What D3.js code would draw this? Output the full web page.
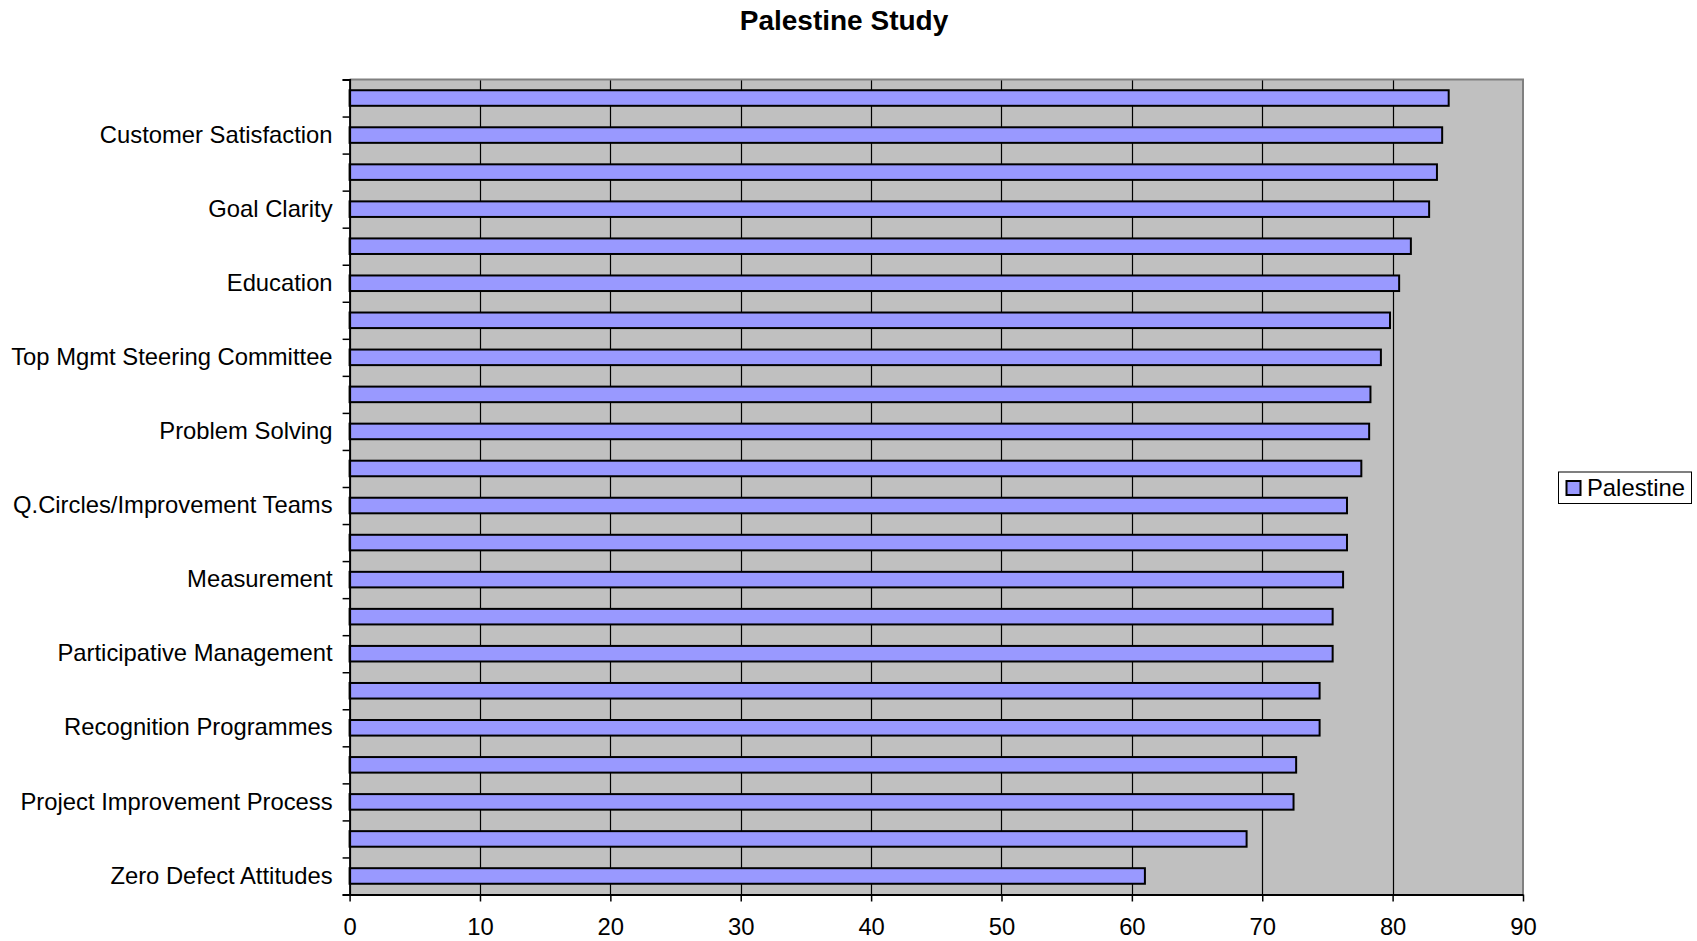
<!DOCTYPE html>
<html>
<head>
<meta charset="utf-8">
<script src="https://cdn.jsdelivr.net/npm/d3@7"></script>
<style>
  html, body { margin: 0; padding: 0; background: #ffffff; }
  svg { display: block; font-family: "Liberation Sans", Arial, sans-serif; }
</style>
</head>
<body>
<svg id="chart" width="1697" height="941"></svg>
<script>
// Factor scores, top to bottom; only every second category carries a visible label.
const categories = [
  "", "Customer Satisfaction", "", "Goal Clarity", "", "Education", "",
  "Top Mgmt Steering Committee", "", "Problem Solving", "", "Q.Circles/Improvement Teams",
  "", "Measurement", "", "Participative Management", "", "Recognition Programmes", "",
  "Project Improvement Process", "", "Zero Defect Attitudes"
];
const palestine = [
  84.3, 83.8, 83.4, 82.8, 81.4, 80.5, 79.8, 79.1, 78.3, 78.2, 77.6,
  76.5, 76.5, 76.2, 75.4, 75.4, 74.4, 74.4, 72.6, 72.4, 68.8, 61.0
];
const xTicks = [0, 10, 20, 30, 40, 50, 60, 70, 80, 90];
const seriesName = "Palestine";
const title = "Palestine Study";

const svg = d3.select("#chart");
const plot = { left: 349.6, right: 1523, top: 79.5, bottom: 894.5 };
const fontSize = 23.8;

const x = d3.scaleLinear().domain([0, 90]).range([plot.left, plot.right]);
const idx = d3.range(categories.length);
const y = d3.scaleBand().domain(idx).range([plot.top, plot.bottom])
  .paddingInner(0.58).paddingOuter(0.29);
// category boundaries for the small tick marks on the value axis
const yEdge = d3.scaleLinear().domain([0, categories.length]).range([plot.top, plot.bottom]);

// plot area background
svg.append("rect")
  .attr("x", plot.left).attr("y", plot.top)
  .attr("width", plot.right - plot.left).attr("height", plot.bottom - plot.top)
  .attr("fill", "#c0c0c0");

// vertical gridlines
svg.append("g").selectAll("line")
  .data(xTicks.filter(t => t > 0 && t < 90))
  .join("line")
  .attr("x1", d => Math.round(x(d)) + 0.5).attr("x2", d => Math.round(x(d)) + 0.5)
  .attr("y1", plot.top).attr("y2", plot.bottom)
  .attr("stroke", "#000").attr("stroke-width", 1.2);

// top and right frame
svg.append("path")
  .attr("d", `M${plot.left},${plot.top}H${plot.right}V${plot.bottom}`)
  .attr("fill", "none").attr("stroke", "#808080").attr("stroke-width", 2);

// bars
svg.append("g").selectAll("rect")
  .data(palestine)
  .join("rect")
  .attr("x", x(0))
  .attr("y", (d, i) => y(i))
  .attr("width", d => x(d) - x(0))
  .attr("height", y.bandwidth())
  .attr("fill", "#9999ff")
  .attr("stroke", "#000")
  .attr("stroke-width", 2);

// category axis: boundary ticks
const yTickAxis = svg.append("g")
  .attr("transform", `translate(${plot.left},0)`)
  .call(d3.axisLeft(yEdge).tickValues(d3.range(categories.length + 1)).tickSize(7).tickFormat(""));
yTickAxis.selectAll("line").attr("stroke", "#000").attr("stroke-width", 1.5);
yTickAxis.select(".domain").attr("stroke", "#000").attr("stroke-width", 2);

// category axis: labels
const yLabelAxis = svg.append("g")
  .attr("transform", `translate(${plot.left},0)`)
  .call(d3.axisLeft(y).tickSize(0).tickPadding(17).tickFormat(i => categories[i]));
yLabelAxis.select(".domain").remove();
yLabelAxis.selectAll("text")
  .attr("font-size", fontSize).attr("fill", "#000")
  .attr("font-family", "Liberation Sans, Arial, sans-serif");

// value axis
const xAxis = svg.append("g")
  .attr("transform", `translate(0,${plot.bottom})`)
  .call(d3.axisBottom(x).tickValues(xTicks).tickSize(7).tickPadding(17).tickSizeOuter(0));
xAxis.select(".domain").attr("stroke", "#000").attr("stroke-width", 2);
xAxis.selectAll("line").attr("stroke", "#000").attr("stroke-width", 1.5);
xAxis.selectAll("text")
  .attr("font-size", fontSize).attr("fill", "#000")
  .attr("font-family", "Liberation Sans, Arial, sans-serif");

// title
svg.append("text")
  .attr("x", 844).attr("y", 29.5)
  .attr("text-anchor", "middle")
  .attr("font-size", 28).attr("font-weight", "bold")
  .text(title);

// legend
const legend = svg.append("g").attr("transform", "translate(1558.5,472)");
legend.append("rect")
  .attr("x", 0).attr("y", 0).attr("width", 133).attr("height", 31.5)
  .attr("fill", "#fff").attr("stroke", "#000").attr("stroke-width", 1);
legend.append("rect")
  .attr("x", 8).attr("y", 9).attr("width", 14).attr("height", 14)
  .attr("fill", "#9999ff").attr("stroke", "#000").attr("stroke-width", 2);
legend.append("text")
  .attr("x", 28.5).attr("y", 24)
  .attr("font-size", fontSize)
  .text(seriesName);
</script>
</body>
</html>
